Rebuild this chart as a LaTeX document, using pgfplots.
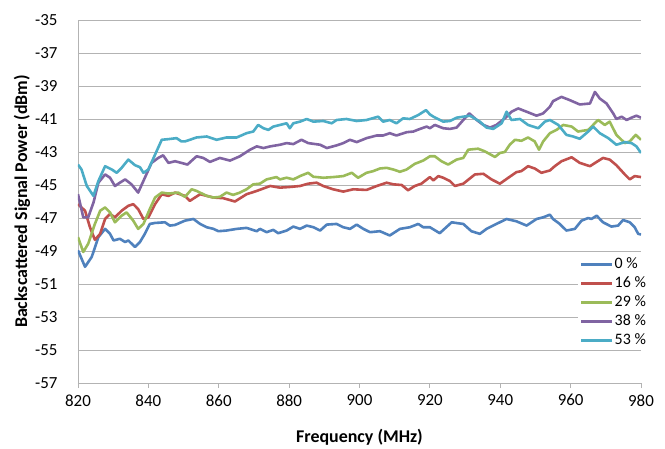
\documentclass[border=0pt]{standalone}
\usepackage{pgfplots}
\pgfplotsset{compat=1.18}
\usepackage{fontspec}
\setmainfont{Carlito}
\definecolor{cA}{HTML}{4F81BD}
\definecolor{cB}{HTML}{C0504D}
\definecolor{cC}{HTML}{9BBB59}
\definecolor{cD}{HTML}{8064A2}
\definecolor{cE}{HTML}{4BACC6}
\definecolor{gridc}{HTML}{B3B3B3}
\begin{document}
\begin{tikzpicture}
\begin{axis}[
  at={(0,0)}, anchor=south west,
  scale only axis, width=563bp, height=363bp,
  xmin=820, xmax=980, ymin=-57, ymax=-35,
  xtick={820,840,...,980}, ytick={-57,-55,...,-35},
  axis x line*=bottom, axis y line*=left,
  axis line style={draw=gridc, line width=0.8bp, -},
  ymajorgrids, grid style={draw=gridc, line width=0.8bp},
  xtick style={draw=gridc, line width=0.8bp},
  xtick pos=bottom, tick align=outside, major tick length=5bp,
  ytick style={draw=none},
  /pgf/number format/assume math mode=true,
  /pgf/number format/.cd, 1000 sep={}, /pgfplots/.cd,
  ticklabel style={font=\fontsize{17}{20}\selectfont},
  xticklabel style={yshift=-3bp},
  yticklabel style={xshift=-12bp},
  xlabel={Frequency (MHz)},
  ylabel={Backscattered Signal Power (dBm)},
  every axis x label/.style={at={(axis description cs:0.5,-0.149)}, anchor=center, font=\fontsize{18}{21}\selectfont\bfseries},
  every axis y label/.style={at={(axis description cs:-0.0995,0.5)}, rotate=90, anchor=center, font=\fontsize{18}{21}\selectfont\bfseries},
  legend style={at={(0.888,0.355)}, anchor=north west, draw=none, fill=white,
    font=\fontsize{16}{19}\selectfont, row sep=3bp, inner sep=2bp,
    nodes={inner sep=1bp, text height=11bp, text depth=3bp},
    cells={anchor=west}},
  legend image code/.code={\draw[#1, line width=2.6bp] (0bp,0bp) -- (31bp,0bp);},
  every axis plot/.append style={line width=2.6bp, line join=round},
]
% 0 %
\addplot[cA] coordinates {
(820,-48.96) (822.0,-49.96) (823.9,-49.36) (825.8,-48.16) (827.7,-47.66) (829.1,-47.96) (830.1,-48.36) (831.9,-48.26) (833.4,-48.46) (834.3,-48.36) (836.2,-48.76) (837.6,-48.46) (839.0,-47.96) (840.4,-47.36) (841.9,-47.3) (844.7,-47.26) (846.1,-47.46) (847.6,-47.42) (850.4,-47.16)
(852.8,-47.06) (854.7,-47.36) (856.6,-47.56) (858.5,-47.66) (859.9,-47.8) (862.2,-47.76) (865.1,-47.66) (867.9,-47.6) (870.8,-47.8) (871.7,-47.66) (873.6,-47.86) (875.5,-47.72) (876.9,-47.92) (879.3,-47.76) (881.2,-47.52) (883.1,-47.66) (885.0,-47.46)
(886.9,-47.56) (888.8,-47.76) (890.7,-47.4) (893.5,-47.36) (895.4,-47.56) (897.3,-47.66) (899.2,-47.4) (901.1,-47.66) (903.0,-47.86) (905.8,-47.8) (908.6,-48.06) (911.5,-47.66) (914.3,-47.56) (916.7,-47.36) (918.1,-47.56) (920.0,-47.56)
(922.8,-47.92) (926.2,-47.26) (928.1,-47.32) (929.5,-47.36) (931.8,-47.8) (934.2,-47.96) (936.1,-47.66) (938.9,-47.36) (941.8,-47.06) (944.6,-47.2) (947.5,-47.46) (950.3,-47.06) (952.2,-46.96) (954.1,-46.8)
(955.0,-47.06) (956.9,-47.36) (958.8,-47.76) (961.2,-47.66) (963.1,-47.16) (965.0,-47.0) (965.9,-47.06) (967.4,-46.86) (969.2,-47.26) (971.6,-47.52) (973.5,-47.46) (974.9,-47.12) (976.8,-47.26) (978.2,-47.56) (979.2,-47.96) (980,-48.0)
};
\addlegendentry{0 \%}
% 16 %
\addplot[cB] coordinates {
(820,-46.16) (822.0,-46.56) (823.4,-47.56) (824.8,-48.32) (826.3,-47.96) (827.7,-47.06) (829.1,-46.76) (830.5,-46.96) (832.4,-46.56) (834.3,-46.26) (835.7,-46.16) (837.1,-46.46) (838.6,-47.06) (840.0,-46.96) (841.9,-46.16) (843.8,-45.56) (845.7,-45.66) (847.6,-45.46) (850.4,-45.66)
(851.8,-45.96) (854.7,-45.56) (858.5,-45.76) (861.3,-45.8) (864.6,-46.0) (867.9,-45.56) (870.8,-45.36) (874.6,-45.06) (877.4,-45.16) (880.2,-45.12) (883.1,-45.06) (885.4,-44.92)
(887.8,-44.86) (889.7,-45.06) (892.5,-45.26) (895.4,-45.4) (898.2,-45.26) (902.0,-45.3) (904.9,-45.06) (907.7,-44.86) (909.6,-44.96) (912.0,-45.0) (913.8,-45.32) (915.7,-45.06) (917.6,-44.92) (920.0,-44.52)
(921.0,-44.72) (922.4,-44.46) (923.8,-44.56) (925.7,-44.76) (927.1,-45.06) (929.5,-44.92) (932.8,-44.36) (935.2,-44.32) (937.5,-44.66) (939.9,-44.92) (942.3,-44.56) (944.6,-44.22) (946.0,-44.16) (947.9,-43.86) (949.8,-44.0) (951.7,-44.26) (954.1,-44.12)
(955.5,-43.86) (957.4,-43.56) (960.3,-43.32) (962.6,-43.66) (965.5,-43.86) (967.4,-43.6) (969.2,-43.36) (971.1,-43.46) (973.0,-43.8) (975.4,-44.36) (976.8,-44.66) (978.2,-44.46) (980,-44.52)
};
\addlegendentry{16 \%}
% 29 %
\addplot[cC] coordinates {
(820,-48.16) (821.5,-49.06) (822.9,-48.56) (824.8,-47.36) (826.3,-46.56) (827.7,-46.36) (829.1,-46.66) (830.5,-47.26) (832.4,-46.86) (833.8,-46.66) (835.7,-47.16) (837.1,-47.66) (838.6,-47.36) (840.4,-46.46) (841.9,-45.76) (843.8,-45.46) (845.7,-45.52) (848.5,-45.46) (850.4,-45.72)
(852.3,-45.26) (853.7,-45.36) (856.6,-45.66) (858.5,-45.76) (860.3,-45.72) (862.2,-45.46) (864.1,-45.6) (866.0,-45.46) (867.9,-45.26) (869.8,-44.96) (871.7,-44.92) (873.6,-44.66) (876.4,-44.52) (877.4,-44.66) (879.3,-44.56) (881.2,-44.66) (883.1,-44.46) (885.4,-44.26)
(886.9,-44.5) (889.7,-44.56) (892.5,-44.52) (895.4,-44.46) (897.8,-44.26) (899.6,-44.56) (902.0,-44.26) (903.9,-44.16) (905.8,-44.0) (907.7,-43.96) (909.6,-44.06) (911.5,-44.2) (913.4,-44.06) (915.7,-43.72) (918.1,-43.52) (920.0,-43.26)
(921.4,-43.26) (923.3,-43.56) (925.2,-43.76) (927.6,-43.46) (929.5,-43.36) (930.9,-42.86) (933.7,-42.8) (935.6,-42.96) (938.5,-43.3) (939.9,-43.06) (941.3,-43.0) (942.7,-42.56) (944.2,-42.26) (946.0,-42.32) (947.9,-42.12) (949.8,-42.36) (951.0,-42.86) (952.2,-42.36) (954.1,-41.86)
(956.0,-41.66) (957.9,-41.36) (960.3,-41.46) (962.1,-41.76) (965.0,-41.66) (967.8,-41.06) (969.7,-41.36) (971.1,-41.16) (973.0,-41.96) (975.4,-42.46) (976.8,-42.36) (978.5,-41.96) (980,-42.26)
};
\addlegendentry{29 \%}
% 38 %
\addplot[cD] coordinates {
(820,-45.56) (821.5,-46.96) (822.9,-46.96) (824.4,-46.06) (825.8,-44.86) (827.7,-44.36) (829.1,-44.56) (830.5,-45.06) (831.9,-44.86) (833.4,-44.66) (835.2,-44.96) (837.1,-45.46) (839.0,-44.56) (840.9,-43.66) (842.8,-43.36) (844.2,-43.2) (845.7,-43.66) (847.6,-43.56) (850.4,-43.72)
(851.1,-43.76) (853.7,-43.26) (855.6,-43.36) (857.5,-43.6) (860.3,-43.36) (863.2,-43.52) (866.0,-43.26) (868.9,-42.86) (870.8,-42.66) (872.7,-42.76) (874.6,-42.66) (877.4,-42.56) (879.3,-42.46) (881.2,-42.52) (883.5,-42.26) (885.4,-42.46)
(888.8,-42.56) (890.7,-42.76) (893.5,-42.6) (895.4,-42.46) (897.3,-42.26) (899.2,-42.4) (902.0,-42.16) (904.9,-42.0) (906.7,-42.0) (908.6,-41.86) (910.5,-42.0) (913.4,-41.8) (915.3,-41.76) (917.2,-41.6) (919.1,-41.46) (920.0,-41.56)
(921.4,-41.36) (923.8,-41.56) (925.7,-41.6) (927.6,-41.52) (929.5,-41.06) (931.2,-40.66) (933.3,-41.06) (935.2,-41.36) (937.1,-41.52) (938.9,-41.36) (941.3,-40.96) (943.2,-40.56) (945.1,-40.36) (947.5,-40.56) (950.3,-40.8) (952.2,-40.66) (954.1,-40.26)
(955.0,-39.92) (957.4,-39.66) (959.8,-39.86) (962.6,-40.12) (965.5,-40.06) (966.9,-39.36) (968.3,-39.76) (970.2,-40.06) (972.1,-40.66) (973.0,-41.0) (974.5,-40.86) (975.9,-41.06) (977.3,-40.92) (978.7,-40.8) (980,-40.92)
};
\addlegendentry{38 \%}
% 53 %
\addplot[cE] coordinates {
(820,-43.76) (821.0,-44.06) (822.5,-45.06) (824.4,-45.66) (825.8,-44.76) (827.7,-43.86) (829.6,-44.06) (831.0,-44.26) (832.4,-43.96) (834.3,-43.46) (836.2,-43.8) (837.6,-43.92) (838.6,-44.26) (840.0,-44.06) (841.9,-43.16) (843.8,-42.26) (845.7,-42.22) (848.0,-42.16) (849.4,-42.36) (850.4,-42.36)
(853.7,-42.12) (856.6,-42.06) (859.4,-42.26) (862.2,-42.12) (865.1,-42.12) (867.9,-41.86) (869.8,-41.76) (871.2,-41.36) (872.7,-41.56) (874.1,-41.66) (875.5,-41.46) (877.4,-41.36) (879.3,-41.26) (880.2,-41.56) (881.2,-41.26) (883.1,-41.16) (885.0,-41.0)
(886.9,-41.16) (889.7,-41.12) (892.1,-41.26) (893.5,-41.06) (896.3,-41.0) (899.2,-41.12) (902.0,-41.06) (905.3,-40.86) (906.7,-41.16) (908.6,-41.06) (910.5,-41.26) (912.4,-40.96) (914.3,-41.0) (916.7,-40.76) (918.9,-40.46) (920.0,-40.72)
(921.0,-40.86) (923.8,-41.16) (925.7,-41.12) (927.6,-40.92) (931.4,-40.8) (934.2,-41.16) (936.1,-41.52) (938.0,-41.6) (940.4,-41.26) (941.8,-40.56) (943.2,-41.06) (945.6,-41.0) (947.9,-41.36) (950.8,-41.56) (952.7,-41.16) (954.1,-41.06)
(956.5,-41.36) (958.8,-41.96) (960.7,-42.06) (962.6,-42.2) (965.0,-41.76) (966.4,-41.46) (968.3,-41.86) (970.7,-42.16) (973.0,-42.56) (975.4,-42.4) (977.3,-42.46) (978.7,-42.66) (980,-43.06)
};
\addlegendentry{53 \%}
\end{axis}
\pgfresetboundingbox
\path (-78bp,-66bp) rectangle (587bp,383bp);
\end{tikzpicture}
\end{document}
